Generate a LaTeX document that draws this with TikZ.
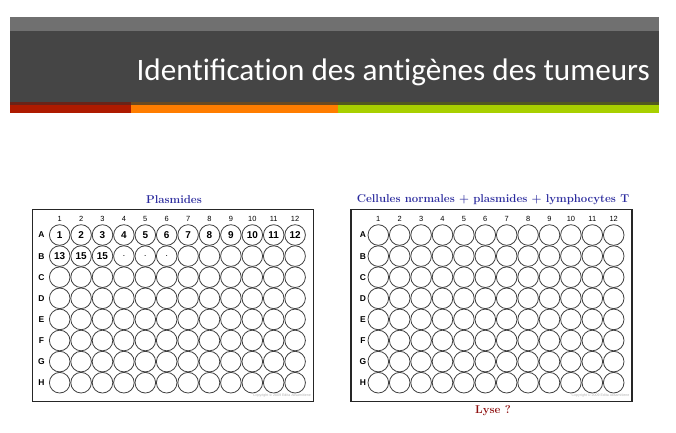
\documentclass[tikz,border=0pt]{standalone}
\usepackage{fontspec}
\newfontfamily\hdrfont[Ligatures=NoCommon]{Carlito}
\newfontfamily\arialfont{Liberation Sans}
\definecolor{topgray}{HTML}{707070}
\definecolor{darkband}{HTML}{454545}
\definecolor{stripred}{HTML}{AE1A00}
\definecolor{striporange}{HTML}{FF7D00}
\definecolor{stripgreen}{HTML}{A8D000}
\definecolor{linered}{HTML}{6A2318}
\definecolor{lineorange}{HTML}{6B4A20}
\definecolor{linegreen}{HTML}{515A1E}
\definecolor{titleblue}{HTML}{2B2B9E}
\definecolor{lysered}{HTML}{8E1010}
\definecolor{wellgray}{HTML}{404040}
\tikzset{
  x=1bp, y=-1bp,
  platebox/.style={draw=black!85, line width=1.4bp},
  well/.style={circle, draw=wellgray, line width=0.8bp, minimum size=20.6bp, inner sep=0pt},
  wellnum/.style={font=\arialfont\bfseries\fontsize{10}{10}\selectfont, inner sep=0pt},
  collabel/.style={font=\arialfont\fontsize{7.5}{7.5}\selectfont, inner sep=0pt},
  rowlabel/.style={font=\arialfont\bfseries\fontsize{8.5}{8.5}\selectfont, inner sep=0pt},
  platetitle/.style={font=\bfseries\fontsize{11.4}{11.4}\selectfont, text=titleblue, inner sep=0pt},
  copyr/.style={font=\arialfont\fontsize{3.6}{3.6}\selectfont, text=black!30, inner sep=0pt, anchor=east},
}
\begin{document}
\begin{tikzpicture}
\useasboundingbox (0,0) rectangle (676,432);
\fill[white] (0,0) rectangle (676,432);
% header
\fill[topgray] (10,17) rectangle (659,31);
\fill[darkband] (10,31) rectangle (659,102);
\fill[linered] (10,102) rectangle (131,105);
\fill[lineorange] (131,102) rectangle (338,105);
\fill[linegreen] (338,102) rectangle (659,105);
\fill[stripred] (10,105) rectangle (131,113);
\fill[striporange] (131,105) rectangle (338,113);
\fill[stripgreen] (338,105) rectangle (659,113);
\node[anchor=base east, inner sep=0pt, text=white, font=\hdrfont\fontsize{31.3}{31.3}\selectfont] (title) at (650,80) {Identi^^^^fb01cation des antigènes des tumeurs};
% plates
\def\rows{A,B,C,D,E,F,G,H}
\foreach \p/\ox/\lx in {L/59.7/41.5, R/378.3/363} {
  \foreach \c in {1,...,12} {
    \node[collabel] (\p-col-\c) at ({\ox+(\c-1)*21.4},218.5) {\c};
  }
  \foreach \r [count=\i] in \rows {
    \node[rowlabel] (\p-row-\r) at (\lx,{235+(\i-1)*21.1}) {\r};
    \foreach \c in {1,...,12} {
      \node[well] (\p-\r-\c) at ({\ox+(\c-1)*21.4},{235+(\i-1)*21.1}) {};
    }
  }
}
\draw[platebox] (32.5,209.5) rectangle (313.5,401.5);
\draw[platebox] (351,209.5) rectangle (632,401.5);
% numbers in left plate
\foreach \c in {1,...,12} {
  \node[wellnum] (num-A-\c) at (L-A-\c) {\c};
}
\foreach \c/\t in {1/13,2/15,3/15,4/$\cdot$,5/$\cdot$,6/$\cdot$} {
  \node[wellnum] (num-B-\c) at (L-B-\c) {\t};
}
\node[copyr] (copyL) at (311,396) {Copyright \copyright\ 2009 Edita Aksamitiene};
\node[copyr] (copyR) at (629.5,396) {Copyright \copyright\ 2009 Edita Aksamitiene};
% titles
\node[platetitle] (tL) at (174,199.5) {Plasmides};
\node[platetitle] (tR) at (493,199.5) {Cellules normales + plasmides + lymphocytes T};
\node[platetitle, text=lysered] (lyse) at (493,411) {Lyse ?};
\end{tikzpicture}
\end{document}
